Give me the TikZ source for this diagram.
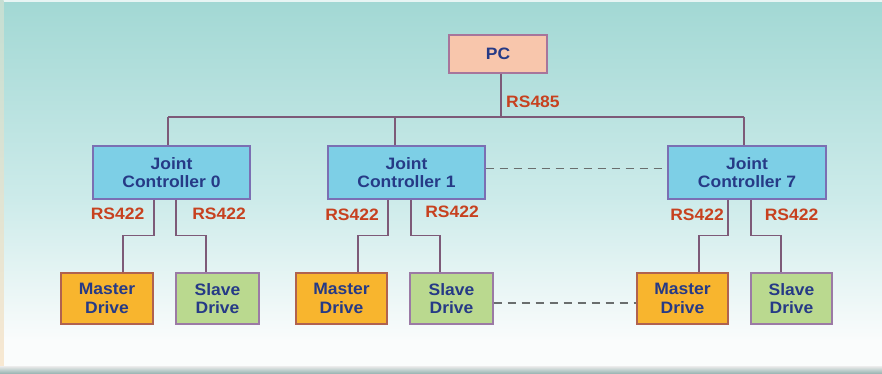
\documentclass[tikz,border=0pt]{standalone}
\usepackage{fontspec}
\setmainfont{Liberation Sans}[FakeStretch=1.06]
\definecolor{bgtop}{HTML}{A2D8D4}
\definecolor{bgmid}{HTML}{CDEBEA}
\definecolor{bgbot}{HTML}{FAFCFC}
\definecolor{pcfill}{HTML}{F8C6AC}
\definecolor{pcdraw}{HTML}{A7759B}
\definecolor{jcfill}{HTML}{7DCFE6}
\definecolor{jcdraw}{HTML}{7B6FB3}
\definecolor{mfill}{HTML}{F8B52E}
\definecolor{mdraw}{HTML}{B0624F}
\definecolor{sfill}{HTML}{BAD98F}
\definecolor{sdraw}{HTML}{9B7AA5}
\definecolor{txt}{HTML}{263A86}
\definecolor{lbl}{HTML}{C7411F}
\definecolor{conncol}{HTML}{7D5A78}
\definecolor{dashcol}{HTML}{6A6E6E}
\definecolor{cream}{HTML}{F8E8D2}
\begin{document}
\begin{tikzpicture}[x=1pt,y=-1pt,
  box/.style={rectangle, line width=1.2pt, align=center, text=txt,
    font=\fontsize{16.5}{18.5}\selectfont\bfseries, inner sep=0pt},
  pcbox/.style={box, fill=pcfill, draw=pcdraw},
  jcbox/.style={box, fill=jcfill, draw=jcdraw, minimum width=157pt, minimum height=53pt},
  mbox/.style={box, fill=mfill, draw=mdraw, minimum height=51pt},
  sbox/.style={box, fill=sfill, draw=sdraw, minimum height=51pt},
  conn/.style={draw=conncol, line width=1.3pt},
  dashconn/.style={draw=dashcol, line width=1.4pt, dash pattern=on 8pt off 6pt},
  lab/.style={text=lbl, font=\fontsize{16.5}{18}\selectfont\bfseries, inner sep=0pt}
]
\useasboundingbox (0,0) rectangle (882,374);
% background
\shade[top color=bgtop, bottom color=bgmid] (0,0) rectangle (882,200.5);
\shade[top color=bgmid, bottom color=bgbot] (0,200) rectangle (882,340.5);
\fill[bgbot] (0,340) rectangle (882,367);
\fill[white!75!bgtop] (0,0) rectangle (882,2.5);
\shade[top color=bgtop!60!cream, bottom color=cream] (0,0) rectangle (3.5,367);
\shade[top color=white!85!gray, bottom color=bgtop!55!gray] (0,366) rectangle (882,374);

% nodes
\node[pcbox, minimum width=98pt, minimum height=38pt] (PC) at (498,54) {PC};
\node[jcbox] (JC0) at (171.5,172.5) {Joint\\Controller 0};
\node[jcbox] (JC1) at (406.5,172.5) {Joint\\Controller 1};
\node[jcbox, minimum width=158pt] (JC7) at (747,172.5) {Joint\\Controller 7};

\node[mbox, minimum width=92pt] (M0) at (107,298.5) {Master\\Drive};
\node[sbox, minimum width=83pt] (S0) at (217.5,298.5) {Slave\\Drive};
\node[mbox, minimum width=91pt] (M1) at (341.5,298.5) {Master\\Drive};
\node[sbox, minimum width=83pt] (S1) at (451.5,298.5) {Slave\\Drive};
\node[mbox, minimum width=91pt] (M7) at (682.5,298.5) {Master\\Drive};
\node[sbox, minimum width=81pt] (S7) at (791.5,298.5) {Slave\\Drive};

% bus
\coordinate (t0) at (168,117);
\coordinate (t1) at (395,117);
\coordinate (t7) at (744,117);
\draw[conn] (t0) -- (t7);
\draw[conn] ([xshift=3pt]PC.south) -- ([xshift=3pt]PC.south |- t0);
\draw[conn] (t0) -- (t0 |- JC0.north);
\draw[conn] (t1) -- (t1 |- JC1.north);
\draw[conn] (t7) -- (t7 |- JC7.north);
\node[lab, anchor=west] (l485) at (506,102) {RS485};

% JC to drives
\draw[conn] ([xshift=-17.5pt]JC0.south) |- ([xshift=16pt,yshift=37pt]M0.north) -- ([xshift=16pt]M0.north);
\draw[conn] ([xshift=4.5pt]JC0.south) |- ([xshift=-11.5pt,yshift=37pt]S0.north) -- ([xshift=-11.5pt]S0.north);
\draw[conn] ([xshift=-18.5pt]JC1.south) |- ([xshift=16.5pt,yshift=37pt]M1.north) -- ([xshift=16.5pt]M1.north);
\draw[conn] ([xshift=4.5pt]JC1.south) |- ([xshift=-11.5pt,yshift=37pt]S1.north) -- ([xshift=-11.5pt]S1.north);
\draw[conn] ([xshift=-19pt]JC7.south) |- ([xshift=16.5pt,yshift=37pt]M7.north) -- ([xshift=16.5pt]M7.north);
\draw[conn] ([xshift=4pt]JC7.south) |- ([xshift=-10.5pt,yshift=37pt]S7.north) -- ([xshift=-10.5pt]S7.north);

% labels
\node[lab] (la0) at (117.5,214) {RS422};
\node[lab] (lb0) at (219,214) {RS422};
\node[lab] (la1) at (352,215) {RS422};
\node[lab] (lb1) at (452,212) {RS422};
\node[lab] (la7) at (697,215) {RS422};
\node[lab] (lb7) at (791.5,215) {RS422};

% dashed
\draw[dashconn] ([yshift=4pt]JC1.east) -- ([yshift=4pt]JC7.west);
\draw[dashconn] ([yshift=-4.5pt]S1.east) -- ([yshift=-4.5pt]M7.west);
\end{tikzpicture}
\end{document}
